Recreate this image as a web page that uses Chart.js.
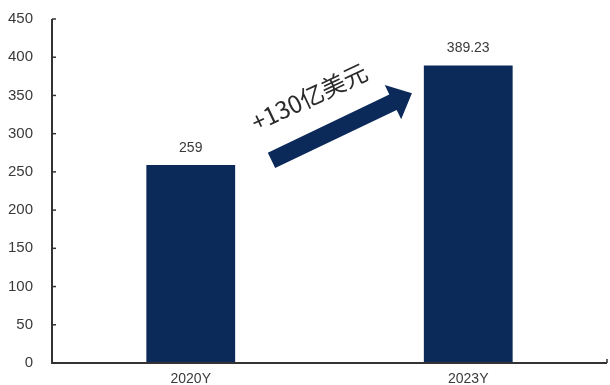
<!DOCTYPE html>
<html><head><meta charset="utf-8">
<script src="https://cdn.jsdelivr.net/npm/chart.js@4/dist/chart.umd.min.js"></script>
<style>html,body{margin:0;padding:0;background:#fff}#wrap{width:610px;height:385px}</style>
</head><body><div id="wrap"><canvas id="c" width="610" height="385"></canvas></div>
<script>
const categories = ['2020Y', '2023Y'];
const values = [259, 389.23];
const valueLabels = ['259', '389.23'];
const yTicks = [0, 50, 100, 150, 200, 250, 300, 350, 400, 450];
const arrowText = '+130亿美元';
// arrow anchored in data space: [category index, value]
const arrowFrom = [0.291, 265];
const arrowTo = [0.797, 353];
const textAt = [0.427, 348];

const BAR = '#0b2a5a';
const AXIS = '#333333';
const TXT = '#3a3a3a';

const deco = {
  id: 'deco',
  afterDatasetsDraw(chart) {
    const {ctx, chartArea: a, scales: {x, y}} = chart;
    ctx.save();
    ctx.strokeStyle = AXIS; ctx.lineWidth = 2;
    ctx.beginPath();
    ctx.moveTo(a.left, y.getPixelForValue(450));
    ctx.lineTo(a.left, a.bottom);
    ctx.lineTo(a.right, a.bottom);
    ctx.stroke();
    ctx.lineWidth = 1.5;
    yTicks.forEach(v => {
      const py = y.getPixelForValue(v);
      ctx.beginPath(); ctx.moveTo(a.left, py); ctx.lineTo(a.left + 4, py); ctx.stroke();
    });
    ctx.beginPath(); ctx.moveTo(a.right, a.bottom); ctx.lineTo(a.right, a.bottom - 4); ctx.stroke();
    ctx.fillStyle = TXT; ctx.font = '14px "Liberation Sans", Arial, sans-serif';
    ctx.textAlign = 'center'; ctx.textBaseline = 'middle';
    const meta = chart.getDatasetMeta(0);
    meta.data.forEach((bar, i) => {
      ctx.fillText(valueLabels[i], bar.x, bar.y - 17);
    });
    const x0 = x.getPixelForValue(arrowFrom[0]), y0 = y.getPixelForValue(arrowFrom[1]);
    const x1 = x.getPixelForValue(arrowTo[0]), y1 = y.getPixelForValue(arrowTo[1]);
    const ang = Math.atan2(y1 - y0, x1 - x0);
    const len = Math.hypot(x1 - x0, y1 - y0);
    ctx.translate(x0, y0); ctx.rotate(ang);
    const hw = 8.5, headL = 21, headW = 19;
    ctx.fillStyle = BAR;
    ctx.beginPath();
    ctx.moveTo(0, -hw); ctx.lineTo(len - headL, -hw); ctx.lineTo(len - headL, -headW);
    ctx.lineTo(len, 0); ctx.lineTo(len - headL, headW); ctx.lineTo(len - headL, hw);
    ctx.lineTo(0, hw); ctx.closePath(); ctx.fill();
    ctx.setTransform(1, 0, 0, 1, 0, 0);
    const tx = x.getPixelForValue(textAt[0]), ty = y.getPixelForValue(textAt[1]);
    ctx.translate(tx, ty); ctx.rotate(-0.44);
    ctx.fillStyle = '#2a2a2a'; ctx.font = '24px "Noto Sans CJK SC", sans-serif';
    ctx.fillText(arrowText, 0, 0);
    ctx.restore();
  }
};

new Chart(document.getElementById('c'), {
  type: 'bar',
  data: { labels: categories, datasets: [{ data: values, backgroundColor: BAR, barPercentage: 0.32, categoryPercentage: 1 }] },
  options: {
    responsive: false, animation: false,
    layout: { padding: { top: 19, right: 3, left: 0, bottom: 0 } },
    plugins: { legend: { display: false }, tooltip: { enabled: false } },
    scales: {
      x: {
        grid: { display: false, drawTicks: false }, border: { display: false },
        ticks: { color: TXT, font: { size: 14, family: '"Liberation Sans", Arial, sans-serif' }, padding: 8 },
        afterFit(s) { s.height = 22; s.paddingLeft = 0; s.paddingRight = 0; }
      },
      y: {
        min: 0, max: 450,
        grid: { display: false, drawTicks: false }, border: { display: false },
        afterBuildTicks(s) { s.ticks = yTicks.map(v => ({ value: v })); },
        ticks: { color: TXT, font: { size: 15, family: '"Liberation Sans", Arial, sans-serif' }, padding: 19 },
        afterFit(s) { s.width = 52; s.paddingTop = 0; s.paddingBottom = 0; }
      }
    }
  },
  plugins: [deco]
});
</script></body></html>
